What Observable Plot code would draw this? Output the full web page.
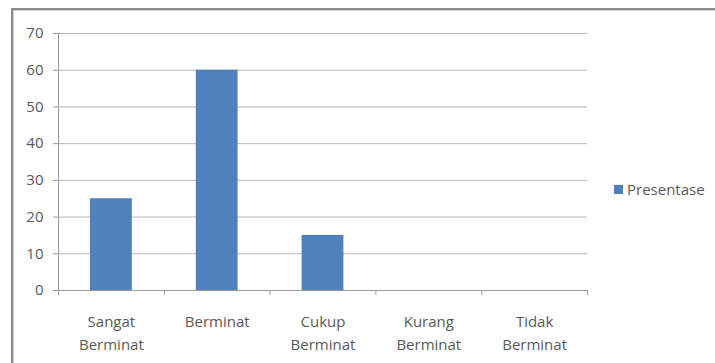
<!DOCTYPE html>
<html>
<head>
<meta charset="utf-8">
<script src="https://cdn.jsdelivr.net/npm/d3@7"></script>
<script src="https://cdn.jsdelivr.net/npm/@observablehq/plot@0.6"></script>
<style>
  html, body { margin: 0; padding: 0; background: #fff; }
  #wrap { position: relative; width: 715px; height: 363px; overflow: hidden; font-family: "Open Sans", sans-serif; }
  #border { position: absolute; left: 11px; top: 8px; right: -5px; bottom: -5px; border-left: 2px solid #8a8a8a; border-top: 2px solid #8a8a8a; box-shadow: inset 1px 1px 0 #d0d0d0; }
  #chart { position: absolute; left: 0; top: 0; }
  #legend { position: absolute; left: 614px; top: 179px; display: flex; align-items: center; font-size: 15px; color: #595959; }
  #legend .sw { width: 9px; height: 9px; background: #4F81BD; margin-right: 4px; }
</style>
</head>
<body>
<div id="wrap">
  <div id="border"></div>
  <div id="chart"></div>
  <div id="legend"><div class="sw"></div><span id="legendText"></span></div>
</div>
<script>
const categories = ["Sangat\nBerminat", "Berminat", "Cukup\nBerminat", "Kurang\nBerminat", "Tidak\nBerminat"];
const values = [25, 60, 15, 0, 0];
const seriesName = "Presentase";
const yTicks = [0, 10, 20, 30, 40, 50, 60, 70];

const data = categories.map((c, i) => ({category: c, index: i, value: values[i]}));
document.getElementById("legendText").textContent = seriesName;

const chart = Plot.plot({
  width: 715,
  height: 363,
  marginLeft: 58,
  marginRight: 128,
  marginTop: 33,
  marginBottom: 73,
  style: {fontFamily: "Open Sans, sans-serif", fontSize: "15px", color: "#595959", background: "transparent"},
  x: {type: "linear", domain: [0, categories.length], axis: null},
  y: {domain: [0, 70], axis: null},
  marks: [
    Plot.ruleY(yTicks.filter(d => d > 0), {stroke: "#b8b8b8", strokeWidth: 1, strokeOpacity: 1}),
    Plot.rect(data.filter(d => d.value > 0), {x1: "index", x2: d => d.index + 1, y1: 0, y2: "value", fill: "#4F81BD", insetLeft: 32, insetRight: 32}),
    Plot.ruleX([0], {y1: 0, y2: 70, stroke: "#9a9a9a"}),
    Plot.ruleY([0], {stroke: "#9a9a9a"}),
    Plot.axisY({ticks: yTicks, tickSize: 5, tickPadding: 10, stroke: "#9a9a9a", strokeOpacity: 1, fill: "#595959", fontSize: 15, label: null}),
    Plot.axisX({ticks: d3.range(0, categories.length + 1), tickSize: 5, tickFormat: () => "", stroke: "#9a9a9a", strokeOpacity: 1, label: null}),
    Plot.axisX({ticks: categories.map((c, i) => i + 0.5), tickSize: 0, tickPadding: 20, tickFormat: d => categories[Math.floor(d)], fill: "#595959", fontSize: 15, lineHeight: 1.55, label: null})
  ]
});
document.getElementById("chart").appendChild(chart);
</script>
</body>
</html>
